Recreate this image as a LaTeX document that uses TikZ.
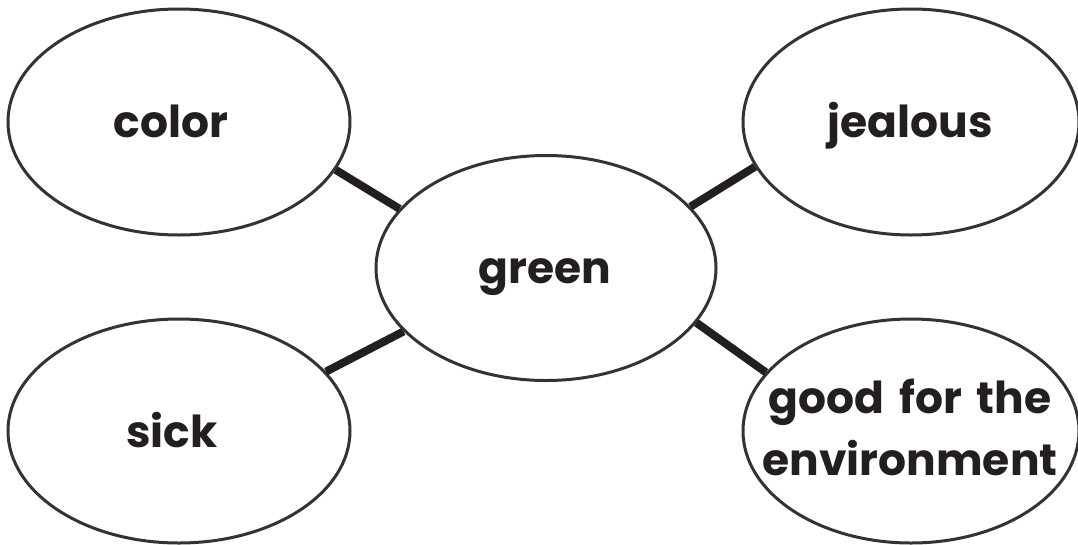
\documentclass[tikz,border=0pt]{standalone}
\usepackage{fontspec}
\setmainfont{Poppins}
\usetikzlibrary{shapes.geometric}
\definecolor{ink}{HTML}{231F20}
\definecolor{rim}{HTML}{333333}
\tikzset{
  bubble/.style={ellipse, draw=rim, line width=3pt, fill=white, inner sep=0pt,
    minimum width=342pt, minimum height=226pt},
  word/.style={anchor=base, text=ink, inner sep=0pt, font=\fontsize{44}{62}\selectfont\bfseries},
  link/.style={draw=ink, line width=8pt}
}
\begin{document}
\begin{tikzpicture}[x=1pt,y=-1pt]
\useasboundingbox (0,0) rectangle (1078,544);
\fill[white] (0,0) rectangle (1078,544);
\node[bubble] (color) at (179,122) {};
\node[bubble, minimum width=336pt] (jealous) at (911,122) {};
\node[bubble, minimum width=340pt, minimum height=225pt] (green) at (546,268) {};
\node[bubble, minimum height=224pt] (sick) at (179,431) {};
\node[bubble, minimum width=336pt, minimum height=224pt] (env) at (911,431) {};
\draw[link] (color.-17) -- (green.158);
\draw[link] (jealous.-164) -- (green.23);
\draw[link] (sick.22) -- (green.-156);
\draw[link] (green.-20) -- (env.158);
\node[word] (colortxt) at (171,137) {color};
\node[word] (jealoustxt) at (910,137) {jealous};
\node[word] (greentxt) at (545,283) {green};
\node[word] (sicktxt) at (172,447) {sick};
\node[word, align=center] (envtxt) at (910,475) {good\hspace{0.12em} for\hspace{0.12em} the\\environment};
\end{tikzpicture}
\end{document}
